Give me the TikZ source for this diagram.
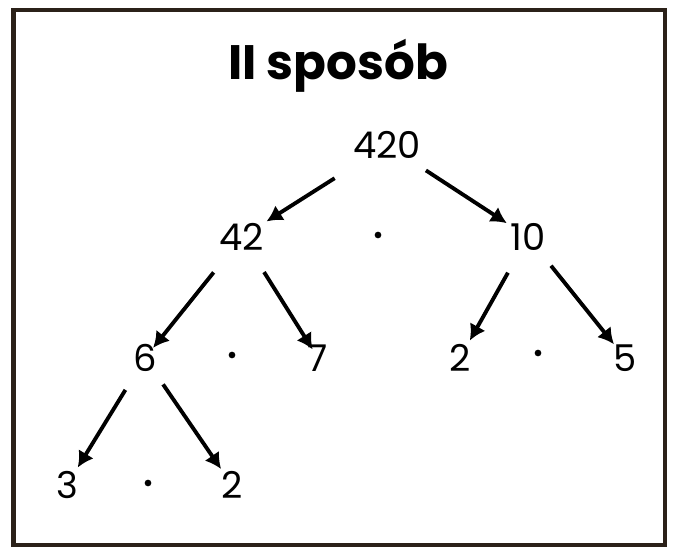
\documentclass[tikz,border=0pt]{standalone}
\usepackage{fontspec}
\setmainfont{Poppins}
\usepackage{tikz}
\usetikzlibrary{arrows.meta}

\definecolor{framebrown}{HTML}{2B2119}

\tikzset{
    num/.style={inner sep=0pt, font=\fontsize{21}{25}\selectfont},
    dotm/.style={circle, fill=black, inner sep=0pt, minimum size=3.8pt},
    arr/.style={line width=2.2pt, -{Latex[length=9pt,width=10pt]}},
}

\begin{document}
\begin{tikzpicture}[scale=1]
    \useasboundingbox (0,0) rectangle (13.48,-10.98);
    \draw[framebrown, line width=2.4pt] (0.27,-0.2) rectangle (13.3,-10.9);

    \node[inner sep=0pt, font=\fontsize{27.5}{32}\selectfont\bfseries] (title) at (6.76,-1.31) {II sposób};

    % first level
    \node[num] (n420) at (7.74,-2.9) {420};
    \node[num] (n42) at (4.84,-4.74) {42};
    \node[dotm] (d1) at (7.56,-4.7) {};
    \node[num] (n10) at (10.56,-4.74) {10};

    % second level
    \node[num] (n6) at (2.9,-7.16) {6};
    \node[dotm] (d2) at (4.64,-7.1) {};
    \node[num] (n7) at (6.36,-7.16) {7};
    \node[num] (n2a) at (9.2,-7.16) {2};
    \node[dotm] (d3) at (10.76,-7.06) {};
    \node[num] (n5) at (12.5,-7.16) {5};

    % third level
    \node[num] (n3) at (1.34,-9.7) {3};
    \node[dotm] (d4) at (2.96,-9.66) {};
    \node[num] (n2b) at (4.64,-9.7) {2};

    \foreach \a/\b/\s/\e in {n420/n42/0.72/0.06, n420/n10/0.42/0.08,
        n42/n6/0.55/-0.1, n42/n7/0.5/-0.12, n10/n2a/0.5/0.08, n10/n5/0.38/0,
        n6/n3/0.42/0.08, n6/n2b/0.3/0.05}
        \draw[arr, shorten <=\s cm, shorten >=\e cm] (\a) -- (\b);
\end{tikzpicture}
\end{document}
